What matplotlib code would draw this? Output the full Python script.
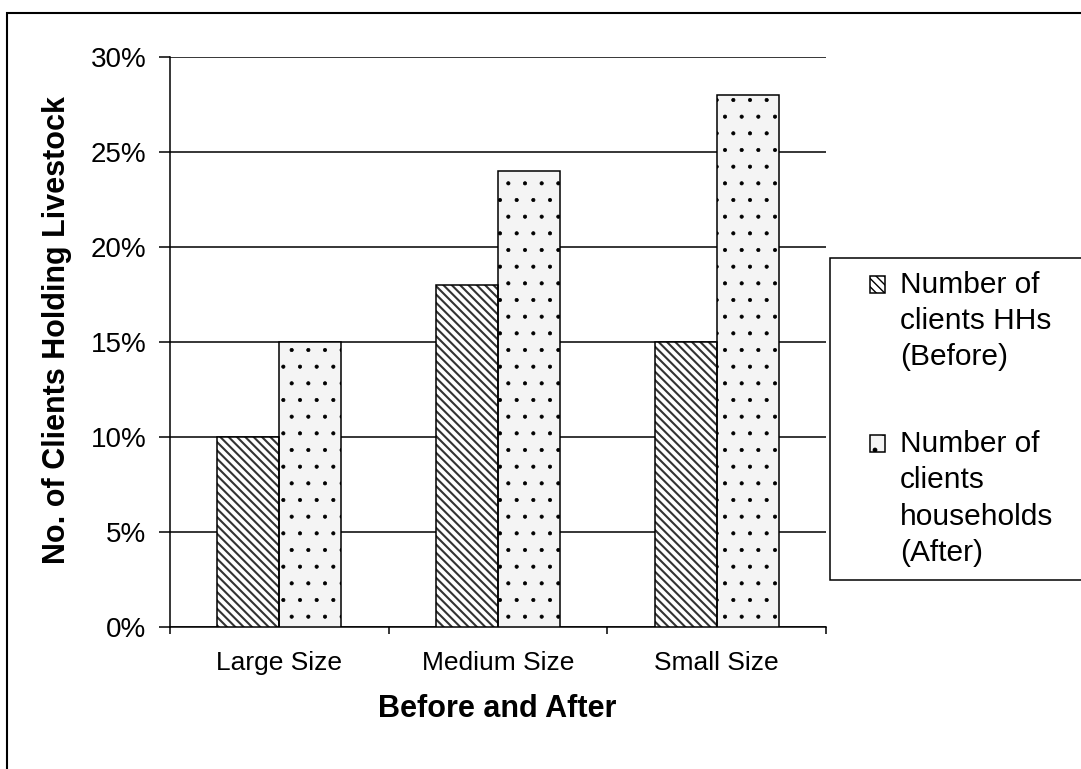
import numpy as np
import matplotlib
matplotlib.use('Agg')
import matplotlib.pyplot as plt
from matplotlib.patches import Rectangle
from matplotlib.ticker import PercentFormatter, FixedLocator

plt.rcParams['font.family'] = ['Liberation Sans', 'DejaVu Sans']

# Share of client households holding livestock, by farm size
categories = ['Large Size', 'Medium Size', 'Small Size']
before = [0.10, 0.18, 0.15]
after = [0.15, 0.24, 0.28]
label_before = 'Number of\nclients HHs\n(Before)'
label_after = 'Number of\nclients\nhouseholds\n(After)'

W, H = 1081, 769
fig = plt.figure(figsize=(W / 100, H / 100), dpi=100)
ax = fig.add_axes([170 / W, 1 - 627 / H, 656 / W, 570 / H])

x = np.arange(len(categories))
width = 0.284

# hatched fills first (hatch takes the edge colour), black outlines on top
with plt.rc_context({'hatch.linewidth': 1.5}):
    ax.bar(x - width, before, width, align='edge', color='white', edgecolor='#333333',
           linewidth=0, hatch='\\\\\\\\', label=label_before, zorder=3)
with plt.rc_context({'hatch.linewidth': 0.5}):
    ax.bar(x, after, width, align='edge', color='#f4f4f4', edgecolor='black',
           linewidth=0, hatch='.', label=label_after, zorder=3)
ax.bar(x - width, before, width, align='edge', fill=False, edgecolor='black',
       linewidth=1.1, zorder=4)
ax.bar(x, after, width, align='edge', fill=False, edgecolor='black',
       linewidth=1.1, zorder=4)

ax.set_xlim(-0.5, len(categories) - 0.5)
ax.set_ylim(0, 0.3)
ax.set_yticks(np.arange(0, 0.31, 0.05))
ax.yaxis.set_major_formatter(PercentFormatter(1.0, decimals=0))
ax.set_xticks(x)
ax.set_xticklabels(categories)
ax.xaxis.set_minor_locator(FixedLocator(np.arange(-0.5, len(categories), 1.0)))

ax.tick_params(axis='x', which='major', length=0, pad=17, labelsize=19)
ax.tick_params(axis='x', which='minor', length=5, width=1.1, direction='out')
ax.tick_params(axis='y', length=8, width=1.1, direction='out', pad=9, labelsize=20)

for side in ['top', 'right']:
    ax.spines[side].set_visible(False)
for side in ['left', 'bottom']:
    ax.spines[side].set_linewidth(1.1)

ax.grid(axis='y', color='black', linewidth=1.1, zorder=0)
ax.set_axisbelow(True)

fig.text(497 / W, 1 - 709 / H, 'Before and After', ha='center', va='center',
         fontsize=22, fontweight='bold')
fig.text(57 / W, 1 - 330 / H, 'No. of Clients Holding Livestock', ha='center',
         va='center', rotation=90, fontsize=22, fontweight='bold')

# Legend box runs off the right edge of the chart area
fs = 21.5
leg = ax.legend(loc='upper left', bbox_to_anchor=(830 / W, 1 - 578 / H, 300 / W, 320 / H),
                bbox_transform=fig.transFigure, mode='expand', fontsize=fs,
                frameon=True, fancybox=False, edgecolor='black', framealpha=1,
                borderpad=0.44, handlelength=1.4, handleheight=0.5,
                handletextpad=0.5, labelspacing=1.97, borderaxespad=0)
leg.get_frame().set_linewidth(1.1)
line_px = 37
for t in leg.get_texts():
    t.set_linespacing(1.37)

# Put each small square beside the first line of its label
for h, n in zip(leg.legend_handles, [3, 4]):
    size = 0.5 * fs
    h.set_x(h.get_x() + h.get_width() - size)
    h.set_width(size)
    h.set_y(h.get_y() + (n - 1) / 2 * line_px * 0.72)
    h.set_linewidth(1.1)
    h.set_edgecolor('black')

# Outer chart-area border
fig.add_artist(Rectangle((7 / W, -0.05), 1.2, 1.05 - 13 / H, transform=fig.transFigure,
                         fill=False, edgecolor='black', linewidth=1.5))

fig.savefig('out.png', dpi=100)
